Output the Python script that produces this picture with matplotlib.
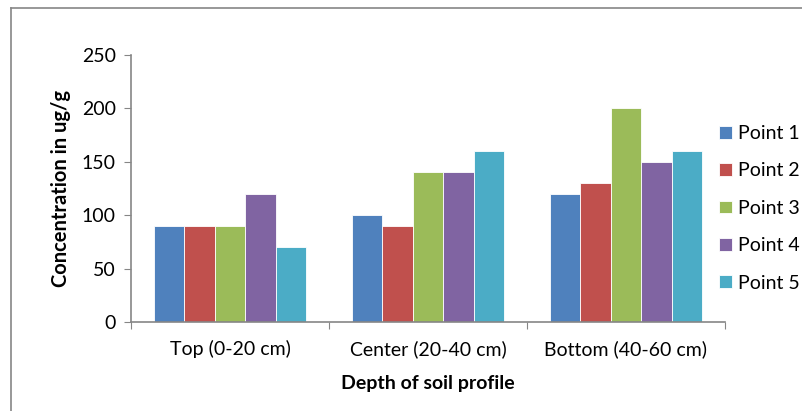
import matplotlib
matplotlib.use("Agg")
import matplotlib.pyplot as plt
from matplotlib.lines import Line2D
import numpy as np

categories = ["Top (0-20 cm)", "Center (20-40 cm)", "Bottom (40-60 cm)"]
series_names = ["Point 1", "Point 2", "Point 3", "Point 4", "Point 5"]
point1 = [90, 100, 120]
point2 = [90, 90, 130]
point3 = [90, 140, 200]
point4 = [120, 140, 150]
point5 = [70, 160, 160]
series = [point1, point2, point3, point4, point5]
colors = ["#4F81BD", "#C0504D", "#9BBB59", "#8064A2", "#4BACC6"]
yticks = [0, 50, 100, 150, 200, 250]

plt.rcParams['font.family'] = ['Lato', 'DejaVu Sans']
W, H = 803, 411
fig = plt.figure(figsize=(W/100, H/100), dpi=100)
ax = fig.add_axes([131/W, 89/H, (725-131)/W, 267/H])

x = np.arange(len(categories))
w = 1/6.5
for i, (vals, c, name) in enumerate(zip(series, colors, series_names)):
    ax.bar(x + (i-2)*w, vals, w, color=c, edgecolor='white', linewidth=0.6, label=name)

ax.set_xlim(-0.5, 2.5)
ax.set_ylim(0, 250)
ax.set_yticks(yticks)
ax.set_yticklabels([str(t) for t in yticks], fontsize=14)
ax.set_xticks([-0.5, 0.5, 1.5, 2.5])
ax.set_xticklabels([])
ax.set_xticks(x, minor=True)
ax.set_xticklabels(categories, minor=True, fontsize=14)
ax.tick_params(axis='x', which='minor', length=0, pad=13)
ax.tick_params(axis='x', which='major', length=5, color='#868686', direction='out')
ax.tick_params(axis='y', length=5, color='#868686', direction='out', pad=6)
for s in ['top', 'right']:
    ax.spines[s].set_visible(False)
for s in ['left', 'bottom']:
    ax.spines[s].set_color('#868686')
    ax.spines[s].set_linewidth(1.2)

ax.set_ylabel("Concentration in ug/g", fontsize=14.5, fontweight='bold', labelpad=8)
ax.set_xlabel("Depth of soil profile", fontsize=14, fontweight='bold', labelpad=12)

ax.legend(loc='upper left', bbox_to_anchor=(719/W, 1-125/H), bbox_transform=fig.transFigure,
          frameon=False, fontsize=14, handlelength=0.65, handleheight=0.65,
          handletextpad=0.35, labelspacing=1.05, borderaxespad=0, borderpad=0)

fig.add_artist(Line2D([11/W, 11/W], [0, 1-8/H], transform=fig.transFigure, color='#868686', lw=1.2))
fig.add_artist(Line2D([11/W, 1], [1-8/H, 1-8/H], transform=fig.transFigure, color='#868686', lw=1.2))

fig.savefig("out.png", dpi=100)
